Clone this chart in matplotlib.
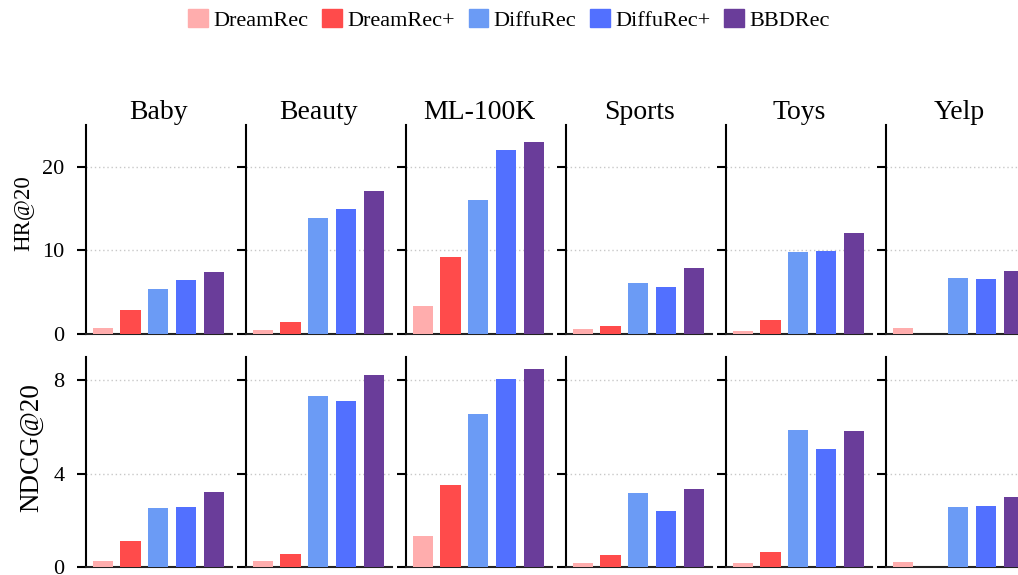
import numpy as np
import matplotlib
matplotlib.use("Agg")
import matplotlib.pyplot as plt
from matplotlib.patches import Patch

plt.rcParams["font.family"] = ["Liberation Serif", "DejaVu Serif"]

datasets = ["Baby", "Beauty", "ML-100K", "Sports", "Toys", "Yelp"]
methods = ["DreamRec", "DreamRec+", "DiffuRec", "DiffuRec+", "BBDRec"]
colors = ["#ffadad", "#ff4b4b", "#6b9bf5", "#5270ff", "#6a3d9a"]

# HR@20 per dataset, one list per method (NaN = not reported)
hr_dreamrec = [0.75, 0.52, 3.35, 0.64, 0.40, 0.72]
hr_dreamrec_plus = [2.87, 1.48, 9.22, 1.00, 1.72, np.nan]
hr_diffurec = [5.39, 13.84, 16.05, 6.16, 9.76, 6.70]
hr_diffurec_plus = [6.47, 14.92, 22.00, 5.68, 9.88, 6.60]
hr_bbdrec = [7.43, 17.08, 23.00, 7.84, 12.04, 7.55]

# NDCG@20 per dataset
ndcg_dreamrec = [0.26, 0.25, 1.35, 0.16, 0.16, 0.22]
ndcg_dreamrec_plus = [1.12, 0.55, 3.50, 0.50, 0.63, np.nan]
ndcg_diffurec = [2.54, 7.32, 6.55, 3.17, 5.86, 2.58]
ndcg_diffurec_plus = [2.58, 7.10, 8.06, 2.40, 5.04, 2.62]
ndcg_bbdrec = [3.23, 8.23, 8.49, 3.35, 5.81, 3.00]

hr = [hr_dreamrec, hr_dreamrec_plus, hr_diffurec, hr_diffurec_plus, hr_bbdrec]
ndcg = [ndcg_dreamrec, ndcg_dreamrec_plus, ndcg_diffurec, ndcg_diffurec_plus, ndcg_bbdrec]

rows = [
    dict(values=hr, label="HR@20", ylim=(0, 25), ticks=[0, 10, 20],
         label_size=16.5, label_xy=(-0.36, 0.58)),
    dict(values=ndcg, label="NDCG@20", ylim=(0, 9), ticks=[0, 4, 8],
         label_size=19.5, label_xy=(-0.29, 0.567)),
]

W, H = 1018, 575
fig = plt.figure(figsize=(W / 100, H / 100), dpi=100)

col_left = [86, 246, 406, 566, 726, 886]
ax_w = 146
row_box = [(125, 334), (357, 567)]  # (top, bottom) in pixels

x = np.arange(len(methods))
for r, row in enumerate(rows):
    top, bottom = row_box[r]
    for c, name in enumerate(datasets):
        ax = fig.add_axes([col_left[c] / W, (H - bottom) / H, ax_w / W, (bottom - top) / H])
        vals = [row["values"][m][c] for m in range(len(methods))]
        ax.bar(x, vals, width=0.72, color=colors, zorder=3)
        ax.set_xlim(-0.6, 4.65)
        ax.set_ylim(*row["ylim"])
        ax.set_yticks(row["ticks"])
        ax.set_xticks([])
        ax.grid(axis="y", linestyle=(0, (1, 2)), color="#c8c8c8", linewidth=1.0, zorder=0)
        for s in ("top", "right"):
            ax.spines[s].set_visible(False)
        ax.spines["left"].set_linewidth(1.5)
        ax.spines["bottom"].set_linewidth(1.5)
        ax.spines["bottom"].set_color("#222222")
        ax.tick_params(axis="y", direction="out", length=6.5, width=1.5,
                       labelsize=16, pad=9)
        if c == 0:
            ax.set_ylabel(row["label"], fontsize=row["label_size"])
            ax.yaxis.set_label_coords(*row["label_xy"])
        else:
            ax.tick_params(axis="y", labelleft=False)
        if r == 0:
            ax.set_title(name, fontsize=20, pad=3)

handles = [Patch(facecolor=col, edgecolor=col) for col in colors]
fig.legend(handles, methods, loc="center", bbox_to_anchor=(0.5, 1 - 20 / H),
           ncol=5, frameon=False, fontsize=16, handlelength=0.88, handleheight=0.88,
           handletextpad=0.25, columnspacing=0.62)

fig.savefig("out.png", dpi=100)
